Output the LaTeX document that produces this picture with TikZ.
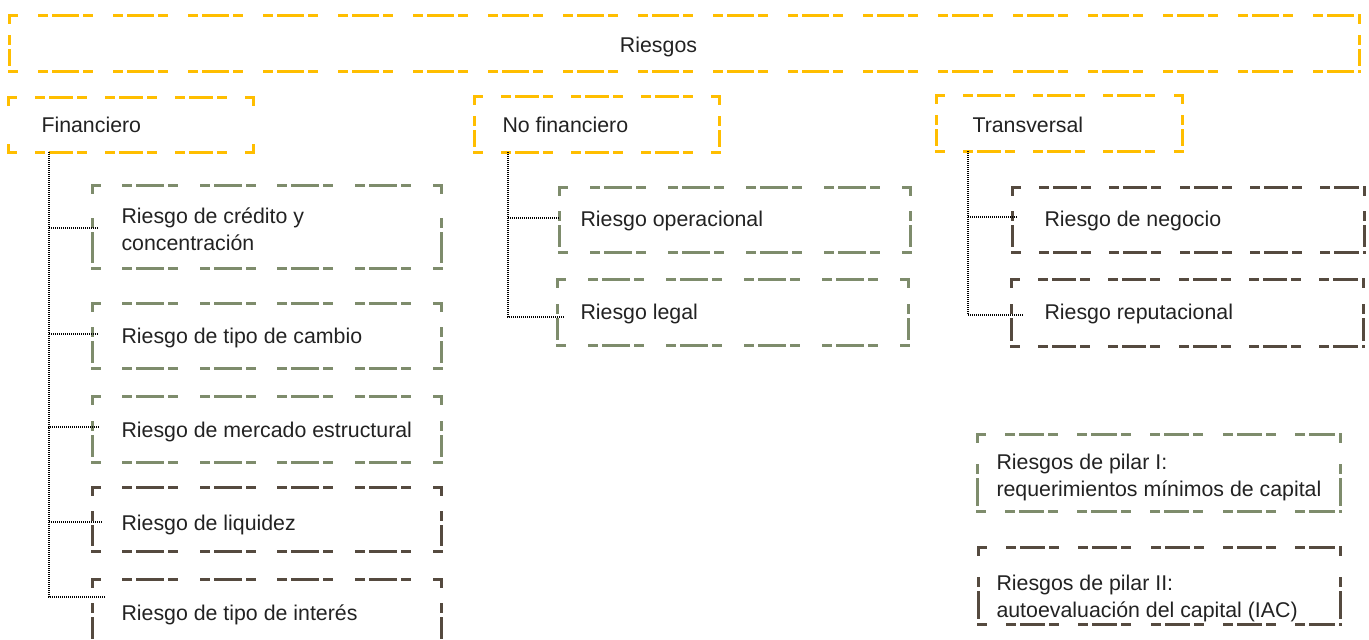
\documentclass[tikz,border=0pt]{standalone}
\usepackage{fontspec}
\setmainfont{Liberation Sans}
\usetikzlibrary{calc}

\definecolor{riskyellow}{RGB}{255,190,0}
\definecolor{riskgreen}{RGB}{126,140,108}
\definecolor{riskbrown}{RGB}{85,74,63}
\definecolor{textgray}{RGB}{34,34,34}

\tikzset{every picture/.style={line width=0.75pt}}
\tikzset{
  boxnode/.style={draw=none, inner sep=0pt, outer sep=0pt},
  txt/.style={anchor=base west, inner sep=0pt, align=left, text=textgray,
    font=\fontsize{16}{20.25}\selectfont},
  link/.style={line width=0.8pt, black, dash pattern=on 0.75pt off 0.75pt}
}

% one side of a box, dashes fitted to the corners
\newcommand{\dashedge}[3]{%
  \pgfmathsetmacro{\nd}{max(1,round((#3)/37))}%
  \pgfmathsetmacro{\qa}{8.5*0.75-1.125}%
  \pgfmathsetmacro{\qb}{((#3)/\nd-17)*0.75+2.25}%
  \draw[dash pattern=on \qa pt off \qb pt on \qa pt] #1 -- #2;}

% name, colour, x1, y1, x2, y2
\newcommand{\riskbox}[6]{%
  \node[boxnode, minimum width={(#5-#3)*0.75pt}, minimum height={(#6-#4)*0.75pt},
    anchor=north west] (#1) at (#3,#4) {};
  \begin{scope}[color=#2, line width=2.25pt, line cap=rect]
    \dashedge{(#1.north west)}{(#1.north east)}{#5-#3}
    \dashedge{(#1.south west)}{(#1.south east)}{#5-#3}
    \dashedge{(#1.north west)}{(#1.south west)}{#6-#4}
    \dashedge{(#1.north east)}{(#1.south east)}{#6-#4}
  \end{scope}}

\begin{document}
\begin{tikzpicture}[x=0.75pt,y=0.75pt,yscale=-1,xscale=1]
\useasboundingbox (0,0) rectangle (1369,639);
\clip (0,0) rectangle (1369,639);

%Shape: Rectangle (top)
\riskbox{riesgos}{riskyellow}{9}{15}{1359}{71}
%Shape: Rectangle (groups)
\riskbox{fin}{riskyellow}{8}{97}{253}{152}
\riskbox{nofin}{riskyellow}{474}{96}{719}{152}
\riskbox{trans}{riskyellow}{936}{95}{1182}{151}
%Shape: Rectangle (financiero)
\riskbox{cred}{riskgreen}{92}{185}{441}{268}
\riskbox{cambio}{riskgreen}{92}{303}{441}{368}
\riskbox{mercado}{riskgreen}{92}{396}{441}{462}
\riskbox{liquidez}{riskbrown}{92}{487}{441}{551}
\riskbox{interes}{riskbrown}{92}{579}{441}{644}
%Shape: Rectangle (no financiero)
\riskbox{oper}{riskgreen}{559}{187}{910}{252}
\riskbox{legal}{riskgreen}{557}{279}{908}{345}
%Shape: Rectangle (transversal)
\riskbox{negocio}{riskbrown}{1012}{187}{1364}{252}
\riskbox{reput}{riskbrown}{1011}{279}{1363}{346}
%Shape: Rectangle (legend)
\riskbox{pilarI}{riskgreen}{977}{434}{1340}{511}
\riskbox{pilarII}{riskbrown}{978}{547}{1340}{624}

%Straight Lines
\coordinate (finroot) at ($(fin.south west)+(41,0)$);
\draw[link] (finroot) |- ($(cred.west)+(7,1.5)$);
\draw[link] (finroot) |- ($(cambio.west)+(7,-1.5)$);
\draw[link] (finroot) |- ($(mercado.west)+(7,-2)$);
\draw[link] (finroot) |- ($(liquidez.west)+(11,3)$);
\draw[link] (finroot) |- ($(interes.north west)+(14,18)$);
%Straight Lines
\coordinate (nofinroot) at ($(nofin.south west)+(34,0)$);
\draw[link] (nofinroot) |- ($(oper.west)+(1,-1.5)$);
\draw[link] (nofinroot) |- ($(legal.west)+(7,5)$);
%Straight Lines
\coordinate (transroot) at ($(trans.south west)+(32,0)$);
\draw[link] (transroot) |- ($(negocio.west)+(5,-2.5)$);
\draw[link] (transroot) |- ($(reput.west)+(12,2.5)$);

% Text Node
\node[txt, anchor=base] (riesgostxt) at (658.5,52) {Riesgos};
% Text Node
\node[txt] (fintxt) at (41,132) {Financiero};
\node[txt] (nofintxt) at (502,132) {No financiero};
\node[txt] (transtxt) at (972,132) {Transversal};
% Text Node
\node[txt] (credtxt) at (121,250) {Riesgo de crédito y\\concentración};
\node[txt] (cambiotxt) at (121,343) {Riesgo de tipo de cambio};
\node[txt] (mercadotxt) at (121,437) {Riesgo de mercado estructural};
\node[txt] (liquideztxt) at (121,530) {Riesgo de liquidez};
\node[txt] (interestxt) at (121,620) {Riesgo de tipo de interés};
% Text Node
\node[txt] (opertxt) at (580,226) {Riesgo operacional};
\node[txt] (legaltxt) at (580,319) {Riesgo legal};
\node[txt] (negociotxt) at (1044,226) {Riesgo de negocio};
\node[txt] (reputtxt) at (1044,319) {Riesgo reputacional};
% Text Node
\node[txt] (pilarItxt) at (996,496) {Riesgos de pilar I:\\requerimientos mínimos de capital};
\node[txt] (pilarIItxt) at (996,617) {Riesgos de pilar II:\\autoevaluación del capital (IAC)};

\end{tikzpicture}
\end{document}
